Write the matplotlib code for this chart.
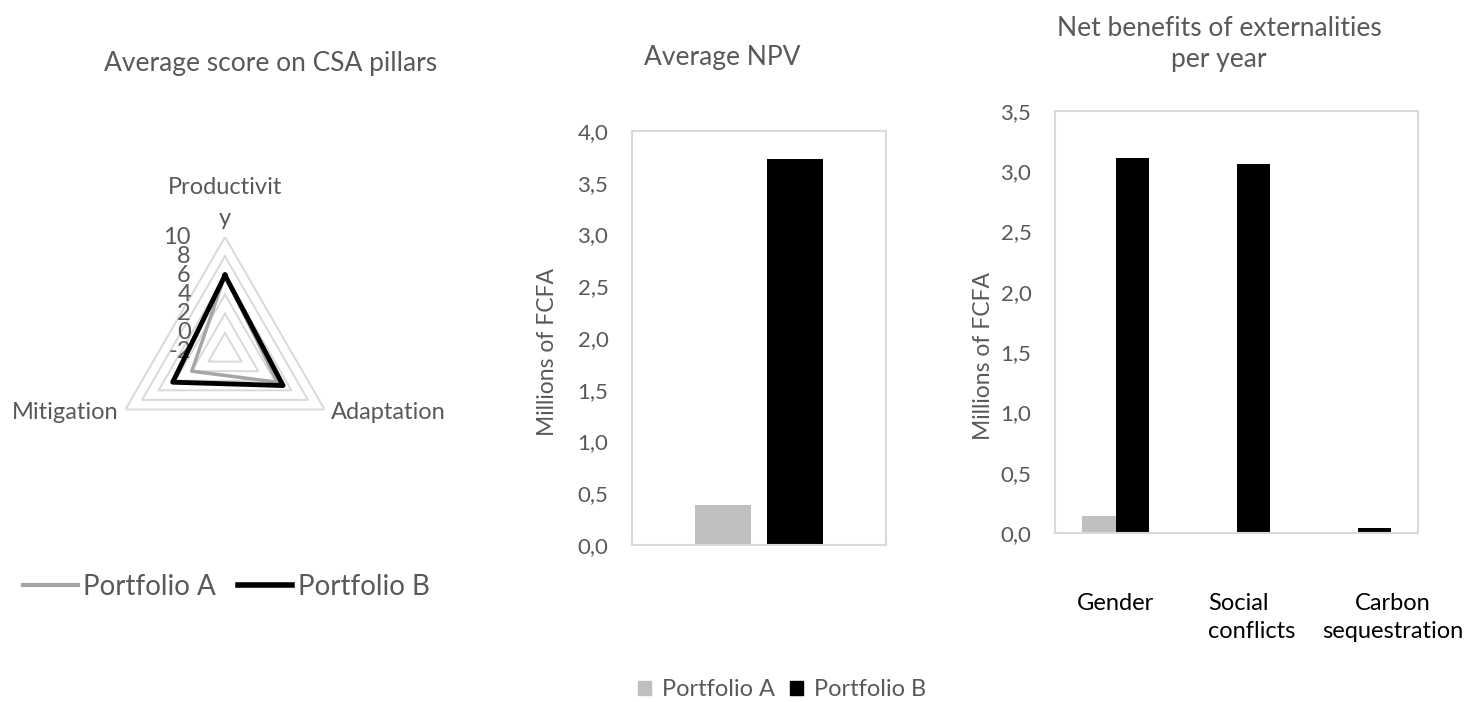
import matplotlib
matplotlib.use("Agg")
import matplotlib.pyplot as plt
import numpy as np
from matplotlib.lines import Line2D
from matplotlib.patches import Patch
from matplotlib.transforms import blended_transform_factory

plt.rcParams["font.family"] = ["Lato", "DejaVu Sans"]

# radar: average score on CSA pillars
pillars = ["Productivit\ny", "Adaptation", "Mitigation"]
score_a = [6.0, 4.3, 2.0]
score_b = [6.0, 5.0, 4.3]
radar_ticks = [10, 8, 6, 4, 2, 0, -2]

# average NPV, millions of FCFA
npv_a = [0.39]
npv_b = [3.73]
npv_ticks = np.arange(0, 4.01, 0.5)

# net benefits of externalities per year, millions of FCFA
ext_labels = ["Gender", "Social\nconflicts", "Carbon\nsequestration"]
ext_a = [0.14, 0.0, 0.005]
ext_b = [3.11, 3.06, 0.04]
ext_ticks = np.arange(0, 3.51, 0.5)

series = ["Portfolio A", "Portfolio B"]

TXT = "#595959"
LINE_A = "#a6a6a6"
BAR_A = "#bfbfbf"
GRID = "#d9d9d9"

W, H = 1470, 702
fig = plt.figure(figsize=(W / 100, H / 100), dpi=100)


def box(x0, y0, x1, y1):
    # pixel box measured from top-left -> figure fraction
    return [x0 / W, 1 - y1 / H, (x1 - x0) / W, (y1 - y0) / H]


# ---- radar chart
rad = fig.add_axes(box(110, 237, 340, 467), projection="polar")
rad.set_theta_zero_location("N")
rad.set_theta_direction(-1)
rad.set_ylim(radar_ticks[-1], radar_ticks[0])
theta = np.deg2rad([0, 120, 240])
closed = np.append(theta, theta[0])
for v in radar_ticks[:-1]:
    rad.plot(closed, [v] * 4, color=GRID, lw=1.4, zorder=1)
rad.plot(closed, score_a + score_a[:1], color=LINE_A, lw=2.5, zorder=3)
rad.plot(closed, score_b + score_b[:1], color="black", lw=3.5, zorder=4)
rad.set_xticks([])
rad.set_yticks([])
rad.grid(False)
rad.spines["polar"].set_visible(False)

for v in radar_ticks:
    rad.annotate(str(v), xy=(0, v), xytext=(-34, 0), textcoords="offset pixels",
                 ha="right", va="center", fontsize=17, color=TXT, annotation_clip=False)

label_pos = [((0, 8), "center", "bottom"), ((6, -3), "left", "center"), ((-7, -3), "right", "center")]
for name, t, (off, ha, va) in zip(pillars, theta, label_pos):
    rad.annotate(name, xy=(t, radar_ticks[0]), xytext=off, textcoords="offset pixels",
                 ha=ha, va=va, fontsize=17, color=TXT, linespacing=1.6, annotation_clip=False)

fig.text(271 / W, 1 - 64 / H, "Average score on CSA pillars", ha="center", va="center",
         fontsize=19, color=TXT)

line_handles = [Line2D([], [], color=LINE_A, lw=3), Line2D([], [], color="black", lw=4)]
fig.legend(line_handles, series, loc="center", bbox_to_anchor=(226.5 / W, 1 - 587 / H),
           ncol=2, frameon=False, fontsize=20, labelcolor=TXT, handlelength=1.95,
           handletextpad=0.2, columnspacing=0.8, borderpad=0, borderaxespad=0)


def style_bar_axes(ax, ticks):
    ax.set_ylim(ticks[0], ticks[-1])
    ax.set_yticks(ticks)
    ax.set_yticklabels([f"{t:.1f}".replace(".", ",") for t in ticks])
    ax.tick_params(axis="y", length=0, pad=17, labelsize=16, labelcolor=TXT)
    ax.set_xticks([])
    for s in ax.spines.values():
        s.set_color(GRID)
        s.set_linewidth(1.5)


# ---- average NPV
npv = fig.add_axes(box(632, 131, 886, 545))
x = np.arange(len(npv_a))
npv.bar(x - 0.142, npv_a, 0.22, color=BAR_A)
npv.bar(x + 0.142, npv_b, 0.22, color="black")
npv.set_xlim(-0.5, 0.5)
style_bar_axes(npv, npv_ticks)
npv.text(-0.331, 0.466, "Millions of FCFA", transform=npv.transAxes, rotation=90,
         ha="center", va="center", fontsize=16.5, color=TXT)
fig.text(722 / W, 1 - 57 / H, "Average NPV", ha="center", va="center", fontsize=19, color=TXT)

# ---- externalities
ext = fig.add_axes(box(1055, 111, 1418, 533))
xe = np.arange(len(ext_labels))
ext.bar(xe - 0.1365, ext_a, 0.273, color=BAR_A)
ext.bar(xe + 0.1365, ext_b, 0.273, color="black")
ext.set_xlim(-0.5, len(ext_labels) - 0.5)
style_bar_axes(ext, ext_ticks)
ext.text(-0.196, 0.42, "Millions of FCFA", transform=ext.transAxes, rotation=90,
         ha="center", va="center", fontsize=16.5, color=TXT)
fig.text(1219 / W, 1 - 44 / H, "Net benefits of externalities\nper year", ha="center",
         va="center", fontsize=19, color=TXT, linespacing=1.35)

blend = blended_transform_factory(ext.transData, ext.transAxes)
cat_pos = [(0.0, -0.168, "center"), (-0.236, -0.2, "left"), (0.293, -0.2, "center")]
for xi, name, (dx, y, ha) in zip(xe, ext_labels, cat_pos):
    ext.text(xi + dx, y, name, transform=blend, ha=ha, va="center", fontsize=17,
             color="black", linespacing=1.45)

bar_handles = [Patch(color=BAR_A), Patch(color="black")]
fig.legend(bar_handles, series, loc="center", bbox_to_anchor=(782 / W, 1 - 690 / H),
           ncol=2, frameon=False, fontsize=17, labelcolor=TXT, handlelength=0.55,
           handleheight=0.55, handletextpad=0.45, columnspacing=0.65, borderpad=0,
           borderaxespad=0)

fig.savefig("out.png", dpi=100)
